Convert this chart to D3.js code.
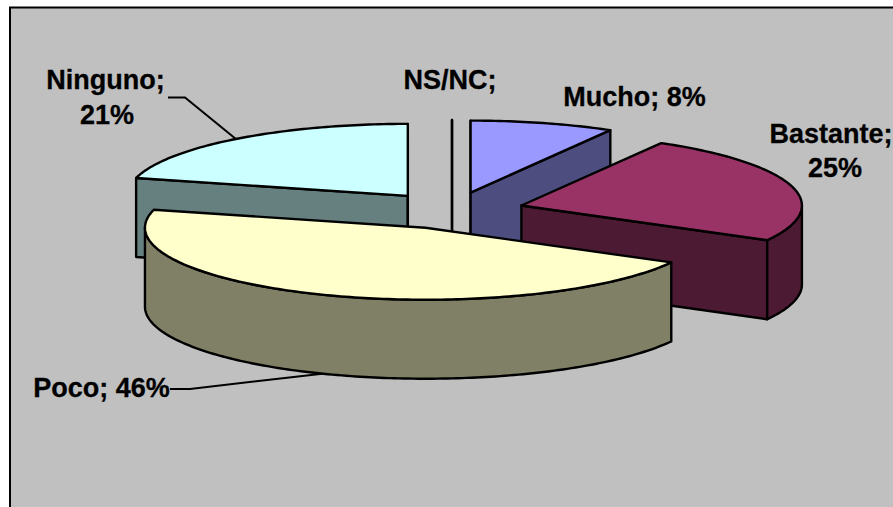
<!DOCTYPE html>
<html>
<head>
<meta charset="utf-8">
<script src="https://cdn.jsdelivr.net/npm/d3@7/dist/d3.min.js"></script>
<style>
html,body{margin:0;padding:0;background:#fff;overflow:hidden}
svg{display:block}
text{font-family:"Liberation Sans",Arial,sans-serif;font-weight:bold;font-size:27px;fill:#000;stroke:#000;stroke-width:0.3px}
</style>
</head>
<body>
<svg id="c" width="893" height="507"></svg>
<script>
// Data
const categories = ["Mucho", "Bastante", "Poco", "Ninguno", "NS/NC"];
const values = [8.3, 24.7, 46, 21, 0];
const shownPercent = [8, 25, 46, 21, null];

// Colours
const topColors = ["#9999ff", "#993366", "#ffffcc", "#ccffff", "#c0c0c0"];
const sideColors = ["#4d4d80", "#4d1a33", "#808066", "#668080", "#606060"];

// Layout
const W = 893, H = 507;
const cx = 452, cy = 210.5, rx = 280.5, ry = 72, explode = 0.257, depth = 79;
const labelLayout = [
  {lines:["Mucho; 8%"], x:[634.5], y:[106]},
  {lines:["Bastante;","25%"], x:[831,835], y:[143,177]},
  {lines:["Poco; 46%"], x:[101.5], y:[397]},
  {lines:["Ninguno;","21%"], x:[105.5,107], y:[89,124], leader:[[168,97.5],[185,97.5]]},
  {lines:["NS/NC;"], x:[450], y:[89]}
];
labelLayout[2].leader = [[170,389],[190,389]];

const svg = d3.select("#c");
svg.append("rect").attr("x",10).attr("y",7.5).attr("width",W+20).attr("height",H+20)
  .attr("fill","#c0c0c0").attr("stroke","#000").attr("stroke-width",2);

const pie = d3.pie().sort(null).value(d=>d).startAngle(0).endAngle(2*Math.PI);
const arcs = pie(values);
const line = d3.line();

const slices = arcs.map((a,i)=>{
  const mid = (a.startAngle+a.endAngle)/2;
  const ox = cx + explode*rx*Math.sin(mid);
  const oy = cy - explode*ry*Math.cos(mid);
  return {i, a, mid, ox, oy};
});
const pt = (s,t,dy=0)=>[s.ox+rx*Math.sin(t), s.oy-ry*Math.cos(t)+dy];
const arcPts = (s,t0,t1,dy=0)=>{
  const n = Math.max(1,Math.ceil(Math.abs(t1-t0)/(Math.PI/180)));
  return d3.range(n+1).map(k=>pt(s,t0+(t1-t0)*k/n,dy));
};
const wall = (s,t)=>[[s.ox,s.oy],pt(s,t),pt(s,t,depth),[s.ox,s.oy+depth]];

const order = slices.slice().sort((p,q)=>d3.ascending(p.oy,q.oy));
const eps = 1e-6;
order.forEach(s=>{
  const g = svg.append("g").attr("stroke","#000").attr("stroke-width",2.4).attr("stroke-linejoin","round");
  const t0 = s.a.startAngle, t1 = s.a.endAngle, side = sideColors[s.i];
  if (Math.sin(t0) <= eps) g.append("path").attr("d",line(wall(s,t0))+"Z").attr("fill",side);
  if (Math.sin(t1) >= -eps) g.append("path").attr("d",line(wall(s,t1))+"Z").attr("fill",side);
  const a0 = Math.max(t0,Math.PI/2), a1 = Math.min(t1,3*Math.PI/2);
  if (a1 > a0) {
    const outer = arcPts(s,a0,a1).concat(arcPts(s,a1,a0,depth));
    g.append("path").attr("d",line(outer)+"Z").attr("fill",side);
  }
  if (t1 > t0) {
    const top = [[s.ox,s.oy]].concat(arcPts(s,t0,t1));
    g.append("path").attr("d",line(top)+"Z").attr("fill",topColors[s.i]);
  }
});

// Leader lines end on the rim at each slice's middle angle
slices.forEach(s=>{
  const L = labelLayout[s.i];
  if (!L.leader) return;
  const onFront = Math.cos(s.mid) < 0;
  const end = pt(s,s.mid,onFront?depth:0);
  svg.append("path").attr("d",line(L.leader.concat([end])))
    .attr("fill","none").attr("stroke","#000").attr("stroke-width",2);
});

// Labels
labelLayout.forEach((L,i)=>{
  L.lines.forEach((txt,j)=>{
    svg.append("text").attr("x",L.x[j]).attr("y",L.y[j]).attr("text-anchor","middle").text(txt);
  });
});
</script>
</body>
</html>
